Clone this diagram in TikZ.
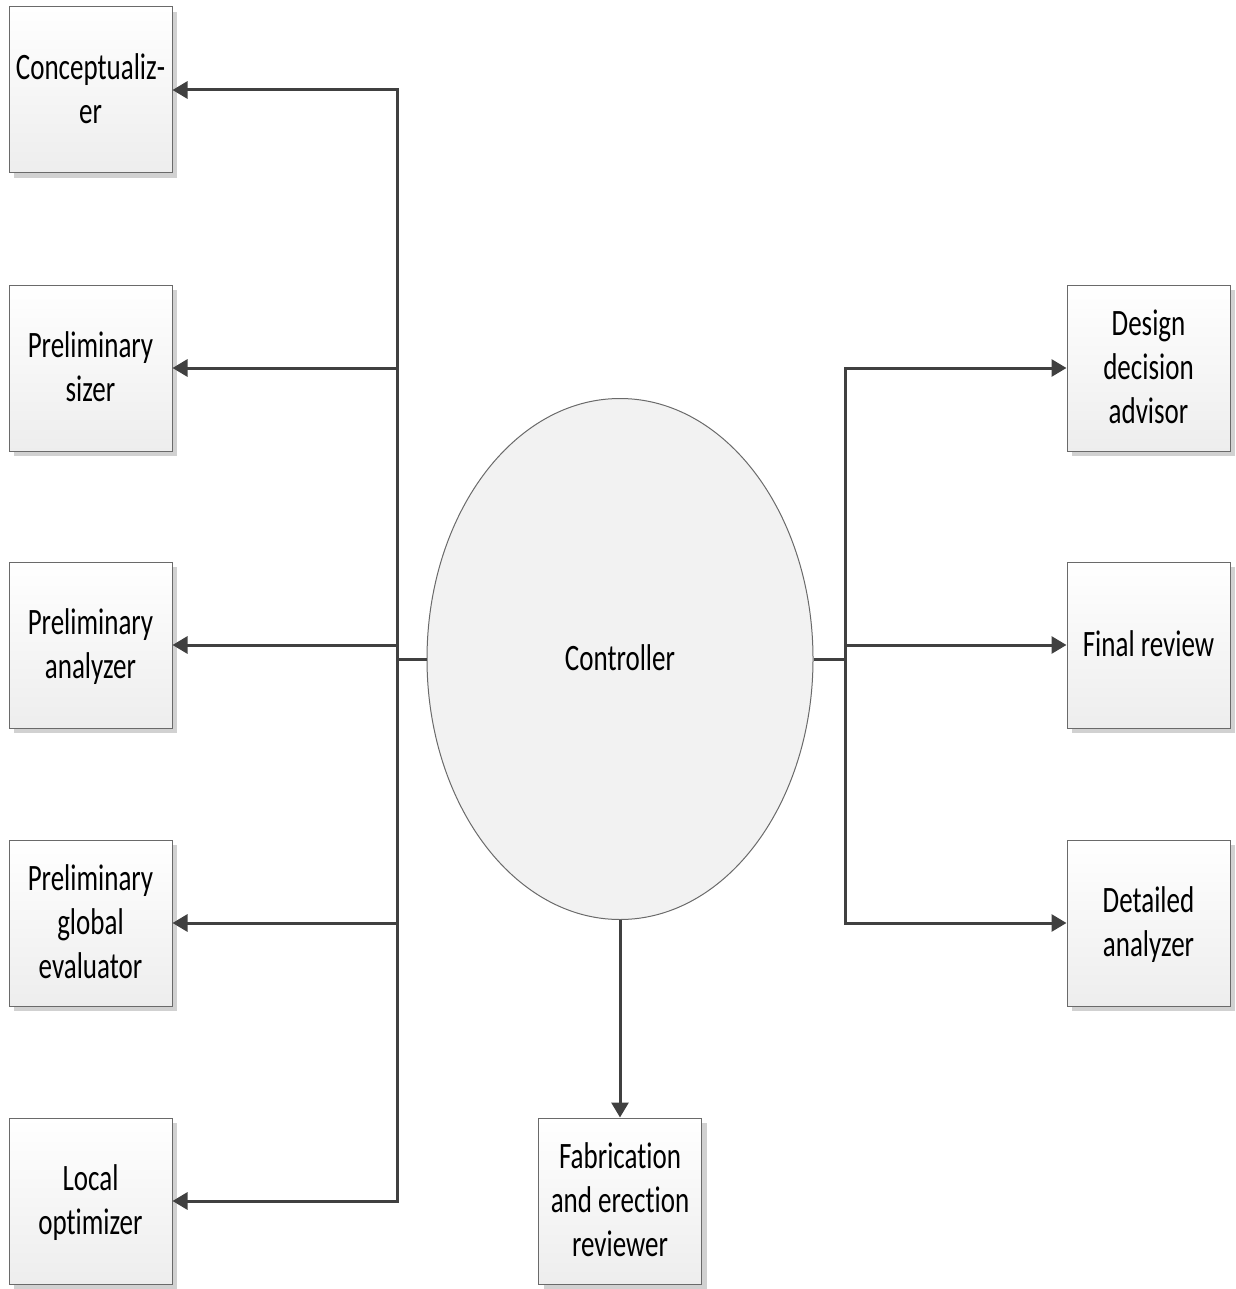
\documentclass[tikz,border=0pt]{standalone}
\usepackage{fontspec}
\setmainfont[Ligatures=NoCommon]{Carlito}
\usetikzlibrary{arrows.meta,shapes.geometric,shadows}
\definecolor{linegray}{HTML}{404040}
\definecolor{edgegray}{HTML}{6A6A6A}
\newcommand{\lbl}[1]{\raisebox{-3pt}[\height][\depth]{\scalebox{1}[1.38]{\begin{tabular}{@{}c@{}}#1\end{tabular}}}}
\begin{document}
\begin{tikzpicture}[x=1pt,y=-1pt,
  box/.style={draw=edgegray, line width=1pt, minimum width=163pt, minimum height=166pt,
    inner sep=0pt, top color=white, bottom color=black!7, align=center,
    font=\fontsize{27}{31.9}\selectfont,
    drop shadow={shadow xshift=5pt, shadow yshift=-5pt, fill=black!18, opacity=1}},
  ctrlshape/.style={ellipse, draw=edgegray, line width=1pt, fill=black!5,
    minimum width=386pt, minimum height=521pt, inner sep=0pt,
    font=\fontsize{27}{31.9}\selectfont},
  conn/.style={draw=linegray, line width=3pt},
  arr/.style={conn, -{Triangle[length=15pt,width=17pt]}}]
\useasboundingbox (0,0) rectangle (1235,1289);
% left boxes
\node[box] (b1) at (90.5,90) {\lbl{Conceptualiz-\\er}};
\node[box] (b2) at (90.5,368) {\lbl{Preliminary\\sizer}};
\node[box] (b3) at (90.5,645) {\lbl{Preliminary\\analyzer}};
\node[box] (b4) at (90.5,923) {\lbl{Preliminary\\global\\evaluator}};
\node[box] (b5) at (90.5,1201) {\lbl{Local\\optimizer}};
% right boxes
\node[box] (r1) at (1148.5,368) {\lbl{Design\\decision\\advisor}};
\node[box] (r2) at (1148.5,645) {\lbl{Final review}};
\node[box] (r3) at (1148.5,923) {\lbl{Detailed\\analyzer}};
% bottom box
\node[box] (fab) at (620,1201) {\lbl{Fabrication\\and erection\\reviewer}};
% controller
\node[ctrlshape] (ctrl) at (620,659) {\lbl{Controller}};
% junctions
\coordinate (jL) at (397,659);
\coordinate (jR) at (845,659);
\draw[conn] (ctrl.west) -- (jL);
\draw[conn] (ctrl.east) -- (jR);
\draw[arr] (jL) |- (b1.east);
\draw[arr] (jL) |- (b2.east);
\draw[arr] (jL) |- (b3.east);
\draw[arr] (jL) |- (b4.east);
\draw[arr] (jL) |- (b5.east);
\draw[arr] (jR) |- (r1.west);
\draw[arr] (jR) |- (r2.west);
\draw[arr] (jR) |- (r3.west);
\draw[arr] (ctrl.south) -- (fab.north);
\end{tikzpicture}
\end{document}
